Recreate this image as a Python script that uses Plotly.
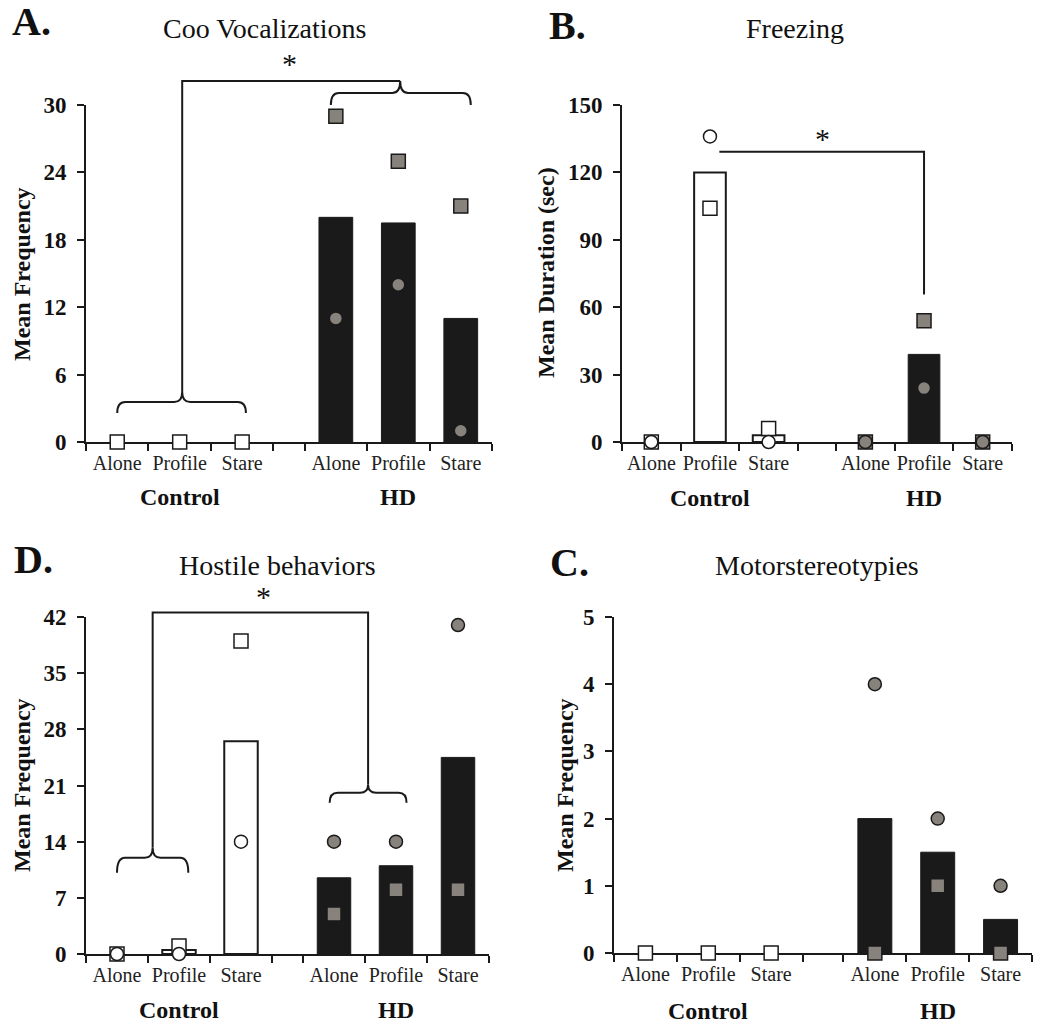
import plotly.graph_objects as go

W, H = 1050, 1026
FONT = "Liberation Serif"
INK = "#1a1a1a"
GREY = "#88827d"

conditions = ["Alone", "Profile", "Stare"]
groups = ["Control", "HD"]

# Panel A: Coo Vocalizations
coo_ctrl_mean = [0, 0, 0]
coo_ctrl_sq = [0, 0, 0]
coo_ctrl_ci = [0, 0, 0]
coo_hd_mean = [20, 19.5, 11]
coo_hd_sq = [29, 25, 21]
coo_hd_ci = [11, 14, 1]
coo_yticks = [0, 6, 12, 18, 24, 30]

# Panel B: Freezing
frz_ctrl_mean = [0, 120, 3]
frz_ctrl_sq = [0, 104, 6]
frz_ctrl_ci = [0, 136, 0]
frz_hd_mean = [0, 39, 0]
frz_hd_sq = [0, 54, 0]
frz_hd_ci = [0, 24, 0]
frz_yticks = [0, 30, 60, 90, 120, 150]

# Panel D: Hostile behaviors
hos_ctrl_mean = [0, 0.5, 26.5]
hos_ctrl_sq = [0, 1, 39]
hos_ctrl_ci = [0, 0, 14]
hos_hd_mean = [9.5, 11, 24.5]
hos_hd_sq = [5, 8, 8]
hos_hd_ci = [14, 14, 41]
hos_yticks = [0, 7, 14, 21, 28, 35, 42]

# Panel C: Motorstereotypies
mot_ctrl_mean = [0, 0, 0]
mot_ctrl_sq = [0, 0, 0]
mot_ctrl_ci = [0, 0, 0]
mot_hd_mean = [2, 1.5, 0.5]
mot_hd_sq = [0, 1, 0]
mot_hd_ci = [4, 2, 1]
mot_yticks = [0, 1, 2, 3, 4, 5]

panels = [
    dict(ax="", letter="A.", title="Coo Vocalizations", ytitle="Mean Frequency",
         ctrl=(coo_ctrl_mean, coo_ctrl_sq, coo_ctrl_ci), hd=(coo_hd_mean, coo_hd_sq, coo_hd_ci),
         yticks=coo_yticks, xpx=(86, 492), ypx=(105, 442), gap=3.5, circles_on_top=False,
         letter_pos=(10, 22), title_pos=(265, 28), ytitle_pos=(22, 274), group_y=497),
    dict(ax="2", letter="B.", title="Freezing", ytitle="Mean Duration (sec)",
         ctrl=(frz_ctrl_mean, frz_ctrl_sq, frz_ctrl_ci), hd=(frz_hd_mean, frz_hd_sq, frz_hd_ci),
         yticks=frz_yticks, xpx=(622, 1012), ypx=(105, 442), gap=3.65, circles_on_top=True,
         letter_pos=(547, 25), title_pos=(795, 28), ytitle_pos=(546, 273), group_y=498),
    dict(ax="3", letter="D.", title="Hostile behaviors", ytitle="Mean Frequency",
         ctrl=(hos_ctrl_mean, hos_ctrl_sq, hos_ctrl_ci), hd=(hos_hd_mean, hos_hd_sq, hos_hd_ci),
         yticks=hos_yticks, xpx=(86, 489), ypx=(617, 954), gap=3.5, circles_on_top=True,
         letter_pos=(12, 559), title_pos=(277, 565), ytitle_pos=(22, 785), group_y=1010),
    dict(ax="4", letter="C.", title="Motorstereotypies", ytitle="Mean Frequency",
         ctrl=(mot_ctrl_mean, mot_ctrl_sq, mot_ctrl_ci), hd=(mot_hd_mean, mot_hd_sq, mot_hd_ci),
         yticks=mot_yticks, xpx=(614, 1032), ypx=(617, 953), gap=3.65, circles_on_top=False,
         letter_pos=(548, 562), title_pos=(817, 565), ytitle_pos=(565, 785), group_y=1011),
]


def PX(p):
    return p / W


def PY(p):
    return 1 - p / H


def xr_of(p):
    return (-0.5, p["gap"] + 2.5)


def to_px(p, xv, yv):
    x0, x1 = p["xpx"]
    ytop, ybot = p["ypx"]
    r0, r1 = xr_of(p)
    ymax = p["yticks"][-1]
    return (x0 + (xv - r0) / (r1 - r0) * (x1 - x0),
            ybot - yv / ymax * (ybot - ytop))


def path_str(pts_cmds):
    out = []
    for cmd, coords in pts_cmds:
        s = cmd
        for (xp, yp) in coords:
            s += " %.5f,%.5f" % (PX(xp), PY(yp))
        out.append(s)
    return " ".join(out)


def brace_path(p, xl, xr, xm, yh, dep, cusp, r=8):
    L = to_px(p, xl, yh)
    R = to_px(p, xr, yh)
    M = to_px(p, xm, yh)
    y = L[1]
    cmds = [
        ("M", [(L[0], y + dep)]),
        ("Q", [(L[0], y), (L[0] + r, y)]),
        ("L", [(M[0] - r, y)]),
        ("Q", [(M[0], y), (M[0], y - cusp)]),
        ("Q", [(M[0], y), (M[0] + r, y)]),
        ("L", [(R[0] - r, y)]),
        ("Q", [(R[0], y), (R[0], y + dep)]),
    ]
    return path_str(cmds), (M[0], y - cusp)


fig = go.Figure()
shapes = []
annotations = []
LINE = dict(color=INK, width=2)

for p in panels:
    xa = "x" + p["ax"]
    ya = "y" + p["ax"]
    gap = p["gap"]
    xc = [i for i in range(3)]
    xh = [gap + i for i in range(3)]
    cm, cs, cc = p["ctrl"]
    hm, hs, hc = p["hd"]

    fig.add_trace(go.Bar(x=xc, y=cm, width=0.54, xaxis=xa, yaxis=ya,
                         marker=dict(color="white",
                                     line=dict(color=INK, width=[2 if v > 0 else 0 for v in cm])),
                         showlegend=False, name="Control"))
    fig.add_trace(go.Bar(x=xh, y=hm, width=0.54, xaxis=xa, yaxis=ya,
                         marker=dict(color=INK,
                                     line=dict(color=INK, width=[1 if v > 0 else 0 for v in hm])),
                         showlegend=False, name="HD"))

    def sq(xs, ys, fill):
        return go.Scatter(x=xs, y=ys, mode="markers", xaxis=xa, yaxis=ya, cliponaxis=False,
                          marker=dict(symbol="square", size=14, color=fill,
                                      line=dict(color=INK, width=1.5)), showlegend=False)

    def ci(xs, ys, fill):
        return go.Scatter(x=xs, y=ys, mode="markers", xaxis=xa, yaxis=ya, cliponaxis=False,
                          marker=dict(symbol="circle", size=13, color=fill,
                                      line=dict(color=INK, width=1.5)), showlegend=False)

    if p["circles_on_top"]:
        order = [sq(xc, cs, "white"), sq(xh, hs, GREY), ci(xc, cc, "white"), ci(xh, hc, GREY)]
    else:
        order = [ci(xc, cc, "white"), ci(xh, hc, GREY), sq(xc, cs, "white"), sq(xh, hs, GREY)]
    for t in order:
        fig.add_trace(t)

    r0, r1 = xr_of(p)
    bounds = [-0.5, 0.5, 1.5, 2.5, gap - 0.5, gap + 0.5, gap + 1.5, gap + 2.5]
    xaxis = dict(domain=[PX(p["xpx"][0]), PX(p["xpx"][1])], range=[r0, r1],
                 anchor=ya, showline=True, linecolor=INK, linewidth=2, showgrid=False,
                 zeroline=False, tickvals=xc + xh, ticktext=conditions + conditions,
                 ticks="", ticklabelstandoff=2, layer="below traces", automargin=False,
                 tickfont=dict(family=FONT, size=20, color="#222"),
                 minor=dict(tickvals=bounds, ticks="outside", ticklen=7, tickwidth=2,
                            tickcolor=INK, showgrid=False),
                 fixedrange=True)
    yaxis = dict(domain=[PY(p["ypx"][1]), PY(p["ypx"][0])], range=[0, p["yticks"][-1]],
                 anchor=xa, showline=True, linecolor=INK, linewidth=2, showgrid=False,
                 zeroline=False, tickvals=p["yticks"], ticks="outside", ticklen=7,
                 tickwidth=2, tickcolor=INK, ticklabelstandoff=6, layer="below traces",
                 automargin=False,
                 tickfont=dict(family=FONT, size=23, color="#111", weight="bold"),
                 fixedrange=True)
    fig.update_layout(**{"xaxis" + p["ax"]: xaxis, "yaxis" + p["ax"]: yaxis})

    # text
    lx, ly = p["letter_pos"]
    annotations.append(dict(text=p["letter"], x=PX(lx), y=PY(ly), xref="paper", yref="paper",
                            xanchor="left", yanchor="middle", showarrow=False,
                            font=dict(family=FONT, size=40, color="#111", weight="bold")))
    tx, ty = p["title_pos"]
    annotations.append(dict(text=p["title"], x=PX(tx), y=PY(ty), xref="paper", yref="paper",
                            xanchor="center", yanchor="middle", showarrow=False,
                            font=dict(family=FONT, size=28, color="#111")))
    yx, yy = p["ytitle_pos"]
    annotations.append(dict(text=p["ytitle"], x=PX(yx), y=PY(yy), xref="paper", yref="paper",
                            xanchor="center", yanchor="middle", showarrow=False, textangle=-90,
                            font=dict(family=FONT, size=24, color="#111", weight="bold")))
    for gi, g in enumerate(groups):
        gx = 1 if gi == 0 else gap + 1
        annotations.append(dict(text=g, x=gx, y=PY(p["group_y"]), xref=xa, yref="paper",
                                xanchor="center", yanchor="middle", showarrow=False,
                                font=dict(family=FONT, size=24, color="#111", weight="bold")))


def star(p, xv, yv):
    xp, yp = to_px(p, xv, yv)
    annotations.append(dict(text="*", x=PX(xp), y=PY(yp), xref="paper", yref="paper",
                            xanchor="center", yanchor="middle", showarrow=False,
                            font=dict(family=FONT, size=30, color="#111")))


def add_path(d):
    shapes.append(dict(type="path", path=d, xref="paper", yref="paper", line=LINE))


# Panel A brackets
pA = panels[0]
d, cuspC = brace_path(pA, 0.0, 2.06, 1.04, 3.56, 11, 10)
add_path(d)
topA = to_px(pA, 0, 32.14)[1]
hdA_y = to_px(pA, 0, 31.07)[1]
d, cuspH = brace_path(pA, 3.42, 5.66, 4.53, 31.07, 12, hdA_y - topA)
add_path(d)
add_path(path_str([("M", [cuspC]), ("L", [(cuspC[0], topA)]), ("L", [(cuspH[0], topA)])]))
star(pA, 2.76, 33.7)

# Panel B bracket
pB = panels[1]
a = to_px(pB, 1.16, 129.2)
b = to_px(pB, 4.65, 129.2)
c = to_px(pB, 4.65, 65.7)
add_path(path_str([("M", [a]), ("L", [b]), ("L", [c])]))
star(pB, 2.92, 135.3)

# Panel D brackets
pD = panels[2]
d, cuspC = brace_path(pD, 0.0, 1.15, 0.575, 12.0, 15, 10)
add_path(d)
d, cuspH = brace_path(pD, 3.43, 4.67, 4.05, 20.1, 10, 8)
add_path(d)
topD = to_px(pD, 0, 42.55)[1]
add_path(path_str([("M", [cuspC]), ("L", [(cuspC[0], topD)]), ("L", [(cuspH[0], topD)]),
                   ("L", [cuspH])]))
star(pD, 2.36, 44.5)

fig.update_layout(width=W, height=H, margin=dict(l=0, r=0, t=0, b=0, autoexpand=False),
                  paper_bgcolor="white", plot_bgcolor="white", barmode="overlay",
                  shapes=shapes, annotations=annotations, showlegend=False,
                  font=dict(family=FONT, color="#111"))

fig.write_html("out.html", config={"displayModeBar": False},
               post_script="document.body.style.margin='0';"
                           "document.body.style.padding='0';"
                           "document.documentElement.style.overflow='hidden';")
